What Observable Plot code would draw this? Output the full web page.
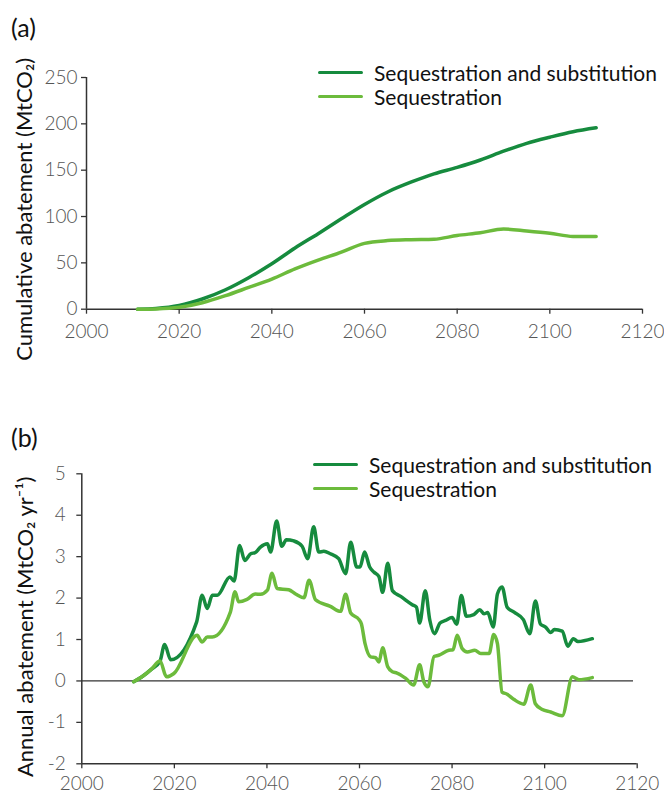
<!DOCTYPE html>
<html><head><meta charset="utf-8">
<script src="https://cdn.jsdelivr.net/npm/d3@7"></script>
<script src="https://cdn.jsdelivr.net/npm/@observablehq/plot@0.6"></script>
<style>
body{margin:0;background:#fff;font-family:Lato,"Noto Sans",sans-serif;}
#root{position:relative;width:664px;height:793px;overflow:hidden;background:#fff}
#root svg{position:absolute;left:0}
.lbl{position:absolute;font-size:25px;line-height:25px;color:#111}
.legend{position:absolute;font-size:21px;color:#111}
.legend .row{display:flex;align-items:center;height:24.5px;white-space:nowrap}
.sw{width:45px;height:0;border-top:3.5px solid;border-radius:2px;margin-right:11px}
</style></head><body><div id="root"></div><script>
// ---------- data ----------
const seriesNames = ["Sequestration and substitution", "Sequestration"];
const seriesColors = ["#168b3e", "#6cbb3c"];
const xTicks = [2000, 2020, 2040, 2060, 2080, 2100, 2120];
const yTicksA = [0, 50, 100, 150, 200, 250];
const yTicksB = [-2, -1, 0, 1, 2, 3, 4, 5];

// (a) cumulative abatement, MtCO2
const cumYears = [2011, 2015, 2020, 2025, 2030, 2035, 2040, 2045, 2050, 2055, 2060, 2065, 2070, 2075, 2080, 2085, 2090, 2095, 2100, 2105, 2110];
const cumSubstitution = [0, 0.8, 4, 11, 21, 34, 49, 66, 81.5, 97.5, 113, 126.5, 137, 146, 153, 161, 170.5, 179, 185.6, 191.5, 195.7];
const cumSequestration = [0, 0.3, 2, 7, 14.6, 23.5, 32.5, 43.5, 53, 61.5, 71, 74, 75, 75.5, 79.5, 82.5, 86.5, 84.5, 82, 78.5, 78.4];

// (b) annual abatement, MtCO2 yr-1
const annYearsSubstitution = [2011.2, 2013, 2015, 2016.9, 2017.9, 2019.2, 2024.8, 2026.0, 2027.1, 2028.2, 2029.3, 2032.0, 2032.9, 2034.1, 2035.2, 2036.5, 2037.5, 2038.6, 2040.1, 2040.8, 2042.1, 2043.2, 2044.2, 2045.8, 2047.6, 2048.8, 2050.1, 2051.2, 2052.3, 2053.7, 2055.5, 2057.0, 2058.1, 2059.4, 2060.1, 2061.1, 2062.2, 2063.1, 2064.2, 2065.0, 2066.1, 2067.1, 2068.9, 2071.4, 2072.3, 2073.0, 2074.2, 2075.2, 2076.2, 2077.4, 2078.6, 2080.0, 2081.0, 2082.0, 2083.1, 2084.7, 2086.0, 2086.9, 2087.7, 2088.9, 2089.8, 2090.8, 2091.9, 2093.4, 2095.4, 2096.8, 2098.0, 2099.1, 2100.2, 2101.3, 2102.1, 2103.8, 2105.0, 2106.2, 2107.2, 2110.3];
const annSubstitution = [-0.02, 0.1, 0.28, 0.48, 0.88, 0.51, 1.42, 2.07, 1.75, 2.07, 2.07, 2.51, 2.41, 3.27, 2.91, 3.07, 3.10, 3.23, 3.31, 3.11, 3.86, 3.25, 3.41, 3.38, 3.25, 2.95, 3.72, 3.11, 3.13, 3.07, 2.95, 2.59, 3.35, 2.75, 2.75, 3.11, 2.75, 2.63, 2.52, 2.14, 2.84, 2.18, 2.04, 1.84, 1.78, 1.40, 2.18, 1.46, 1.14, 1.40, 1.46, 1.53, 1.37, 2.06, 1.56, 1.60, 1.72, 1.62, 1.65, 1.30, 2.10, 2.27, 1.78, 1.66, 1.48, 1.14, 1.93, 1.37, 1.30, 1.17, 1.24, 1.20, 0.84, 1.02, 0.95, 1.02];
const annYearsSequestration = [2011.2, 2013, 2015, 2016.9, 2018.3, 2019.9, 2024.9, 2026.0, 2027.1, 2028.2, 2032.1, 2033.1, 2033.9, 2035.7, 2037.5, 2038.6, 2040.1, 2041.1, 2042.2, 2044.7, 2046.2, 2048.0, 2049.1, 2050.5, 2053.7, 2055.9, 2057.0, 2058.1, 2059.9, 2060.4, 2061.2, 2062.4, 2063.5, 2064.2, 2065.0, 2066.1, 2067.1, 2068.1, 2070.0, 2071.7, 2073.0, 2073.9, 2074.8, 2076.1, 2077.1, 2079.3, 2080.2, 2081.1, 2082.2, 2083.3, 2084.9, 2086.2, 2088.0, 2089.0, 2089.8, 2090.8, 2091.9, 2093.4, 2095.5, 2097.0, 2098.0, 2099.5, 2101.3, 2103.8, 2106.0, 2107.4, 2110.3];
const annSequestration = [-0.02, 0.1, 0.28, 0.48, 0.10, 0.18, 1.10, 0.94, 1.06, 1.06, 1.66, 2.15, 1.91, 1.97, 2.10, 2.09, 2.19, 2.60, 2.23, 2.20, 2.10, 2.01, 2.43, 1.96, 1.80, 1.68, 2.09, 1.64, 1.48, 1.38, 0.90, 0.58, 0.56, 0.46, 0.80, 0.34, 0.22, 0.19, 0.06, -0.10, 0.39, -0.02, -0.14, 0.59, 0.62, 0.74, 0.75, 1.10, 0.78, 0.70, 0.74, 0.66, 0.66, 1.12, 0.90, -0.27, -0.32, -0.45, -0.56, -0.10, -0.55, -0.69, -0.75, -0.84, 0.10, 0.03, 0.08];

const labelA = "Cumulative abatement (MtCO\u2082)";
const labelB = "Annual abatement (MtCO\u2082 yr\u207B\u00B9)";

// ---------- build ----------
const toRows = (xs, ys) => xs.map((x, i) => ({year: x, value: ys[i]}));
const fmt = d => String(d);
const axisStyle = {stroke: "#333", fill: "#555", strokeWidth: 1.3, fontSize: 19, fontWeight: 300, label: null};
const lineStyle = {x: "year", y: "value", strokeWidth: 3.5, curve: "monotone-x", strokeLinejoin: "round", strokeLinecap: "round"};

const root = document.getElementById("root");

const chartA = Plot.plot({
  width: 664, height: 400,
  marginLeft: 86, marginRight: 22, marginTop: 77, marginBottom: 91.3,
  x: {domain: [2000, 2120], label: null},
  y: {domain: [0, 250], label: null},
  style: {fontFamily: "Lato, 'Noto Sans', sans-serif", background: "transparent", overflow: "visible"},
  marks: [
    Plot.axisX({...axisStyle, ticks: xTicks, tickFormat: fmt, tickSize: 5, tickPadding: 10}),
    Plot.axisY({...axisStyle, ticks: yTicksA, tickFormat: fmt, tickSize: 5, tickPadding: 4}),
    Plot.ruleX([2000], {stroke: "#333", strokeWidth: 1.5}),
    Plot.ruleY([0], {stroke: "#333", strokeWidth: 1.5}),
    Plot.line(toRows(cumYears, cumSubstitution), {...lineStyle, stroke: seriesColors[0]}),
    Plot.line(toRows(cumYears, cumSequestration), {...lineStyle, stroke: seriesColors[1]}),
    Plot.text([labelA], {frameAnchor: "left", textAnchor: "middle", lineAnchor: "middle", rotate: -90, dx: -62, dy: 16, fontSize: 22, fill: "#111"})
  ]
});
chartA.style.top = "0px";
root.appendChild(chartA);

const chartB = Plot.plot({
  width: 664, height: 393,
  marginLeft: 81.3, marginRight: 27.3, marginTop: 73.3, marginBottom: 29.7,
  x: {domain: [2000, 2120], label: null},
  y: {domain: [-2, 5], label: null},
  style: {fontFamily: "Lato, 'Noto Sans', sans-serif", background: "transparent", overflow: "visible"},
  marks: [
    Plot.axisX({...axisStyle, ticks: xTicks, tickFormat: fmt, tickSize: 5, tickPadding: 8}),
    Plot.axisY({...axisStyle, ticks: yTicksB, tickFormat: fmt, tickSize: 5, tickPadding: 11}),
    Plot.ruleX([2000], {stroke: "#333", strokeWidth: 1.5}),
    Plot.ruleY([-2], {stroke: "#333", strokeWidth: 1.5}),
    Plot.ruleY([0], {x1: 2000, x2: 2119.2, stroke: "#333", strokeWidth: 1.3}),
    Plot.line(toRows(annYearsSubstitution, annSubstitution), {...lineStyle, stroke: seriesColors[0]}),
    Plot.line(toRows(annYearsSequestration, annSequestration), {...lineStyle, stroke: seriesColors[1]}),
    Plot.text([labelB], {frameAnchor: "left", textAnchor: "middle", lineAnchor: "middle", rotate: -90, dx: -56, dy: 8, fontSize: 22, fill: "#111"})
  ]
});
chartB.style.top = "400px";
root.appendChild(chartB);

// panel labels and legends
function addLabel(text, left, top) {
  const d = document.createElement("div");
  d.className = "lbl"; d.textContent = text;
  d.style.left = left + "px"; d.style.top = top + "px";
  root.appendChild(d);
}
function addLegend(left, top) {
  const lg = document.createElement("div");
  lg.className = "legend";
  lg.style.left = left + "px"; lg.style.top = top + "px";
  seriesNames.forEach((name, i) => {
    const row = document.createElement("div"); row.className = "row";
    const sw = document.createElement("span"); sw.className = "sw"; sw.style.borderColor = seriesColors[i];
    const t = document.createElement("span"); t.textContent = name;
    row.appendChild(sw); row.appendChild(t); lg.appendChild(row);
  });
  root.appendChild(lg);
}
addLabel("(a)", 11, 15);
addLabel("(b)", 11, 425);
addLegend(318, 60);
addLegend(313, 452);
</script></body></html>
